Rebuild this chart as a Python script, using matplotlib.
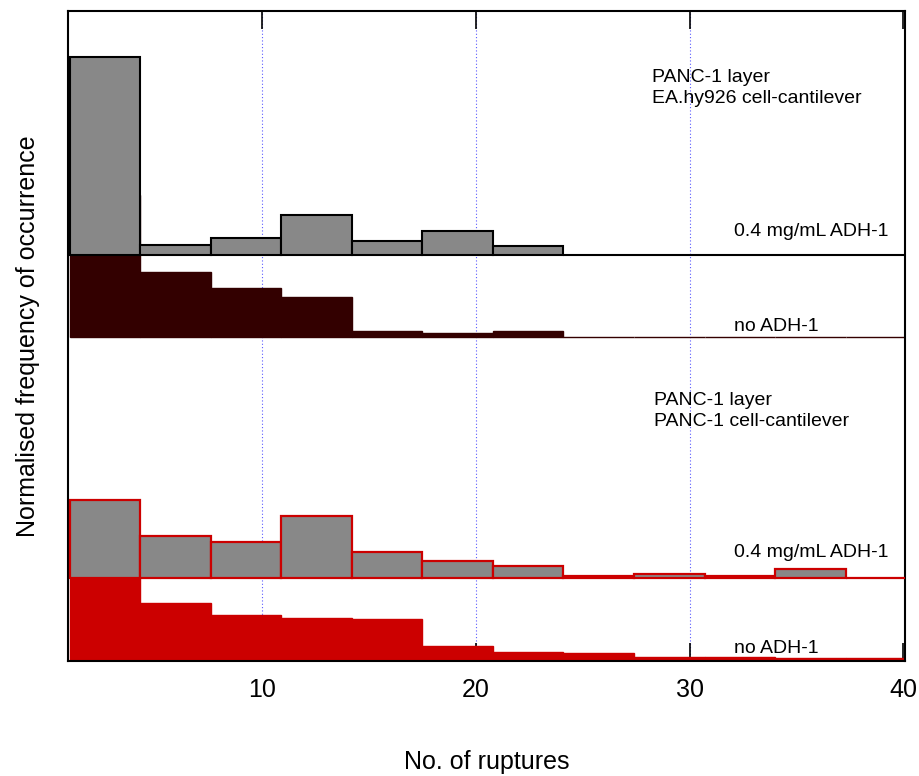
import matplotlib
matplotlib.use("Agg")
import matplotlib.pyplot as plt
import numpy as np

plt.rcParams['font.family'] = ['Liberation Sans', 'DejaVu Sans']

# bin edges (No. of ruptures)
bin_edges = [1.0, 4.3, 7.6, 10.9, 14.2, 17.5, 20.8, 24.1, 27.4, 30.7, 34.0, 37.3, 40.6]

# normalised frequency (%)
ea_adh = [63.5, 3.2, 5.4, 12.8, 4.5, 7.7, 2.9, 0, 0, 0, 0, 0]
ea_none = [45.4, 20.8, 15.7, 12.8, 1.9, 1.4, 1.9, 0, 0, 0, 0, 0]
panc_adh = [25.0, 13.5, 11.5, 19.9, 8.3, 5.4, 3.8, 0.7, 1.4, 0.6, 2.9, 0]
panc_none = [28.1, 18.3, 14.4, 13.5, 13.1, 4.5, 2.6, 2.2, 1.1, 1.0, 0.6, 0.6]

# vertical offsets of each stacked histogram
off_ea_adh = 130.1
off_ea_none = 103.8
off_panc_adh = 26.6
off_panc_none = 0.3

xticks = [10, 20, 30, 40]

edges = np.array(bin_edges)
lefts = edges[:-1]
widths = np.diff(edges)

fig = plt.figure(figsize=(9.19, 7.76), dpi=100)
ax = fig.add_axes([0.074, 0.148, 0.911, 0.838])

# grid behind everything
for xv in xticks[:-1]:
    ax.axvline(xv, color='#5a5aff', linestyle=(0, (1, 2)), linewidth=0.8, zorder=0)

# top group: EA.hy926 cell-cantilever
ax.bar(lefts, ea_none, width=widths, bottom=off_ea_none, align='edge',
       color='#330000', edgecolor='#330000', linewidth=1.0, zorder=2)
ax.bar(lefts, ea_adh, width=widths, bottom=off_ea_adh, align='edge',
       color='#888888', edgecolor='black', linewidth=1.5, zorder=3)

# bottom group: PANC-1 cell-cantilever
ax.bar(lefts, panc_none, width=widths, bottom=off_panc_none, align='edge',
       color='#cc0000', edgecolor='#cc0000', linewidth=1.0, zorder=2)
ax.bar(lefts, panc_adh, width=widths, bottom=off_panc_adh, align='edge',
       color='#888888', edgecolor='#cc0000', linewidth=1.6, zorder=3)

fs = 14
ax.text(28.25, 183.5, 'PANC-1 layer\nEA.hy926 cell-cantilever', fontsize=fs,
        va='center', ha='left', linespacing=1.3)
ax.text(32.1, 137.5, '0.4 mg/mL ADH-1', fontsize=fs, va='center', ha='left')
ax.text(32.1, 107.1, 'no ADH-1', fontsize=fs, va='center', ha='left')
ax.text(28.35, 80.1, 'PANC-1 layer\nPANC-1 cell-cantilever', fontsize=fs,
        va='center', ha='left', linespacing=1.3)
ax.text(32.1, 34.9, '0.4 mg/mL ADH-1', fontsize=fs, va='center', ha='left')
ax.text(32.1, 4.2, 'no ADH-1', fontsize=fs, va='center', ha='left')

ax.set_xlim(0.92, 40.09)
ax.set_ylim(0, 208.3)
ax.set_xticks(xticks)
ax.set_yticks([])
ax.tick_params(axis='x', direction='in', length=13, width=1.2, top=True,
               labelsize=18, pad=12)
for s in ax.spines.values():
    s.set_linewidth(1.5)

ax.set_xlabel('No. of ruptures', fontsize=18, labelpad=35)
ax.set_ylabel('Normalised frequency of occurrence', fontsize=18, labelpad=20)

fig.savefig('out.png', dpi=100)
